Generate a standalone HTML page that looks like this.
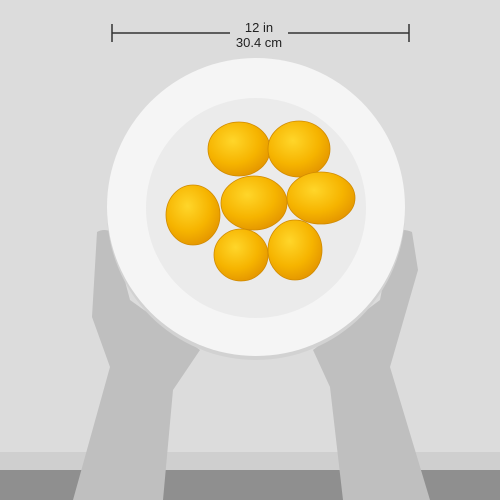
<!DOCTYPE html>
<html><head><meta charset="utf-8"><style>body{margin:0}svg{display:block}</style></head><body>
<svg width="500" height="500" viewBox="0 0 500 500">
<defs>
<radialGradient id="lem" cx="0.4" cy="0.35" r="0.7"><stop offset="0" stop-color="#ffd62a"/><stop offset="0.6" stop-color="#f6b400"/><stop offset="1" stop-color="#e39400"/></radialGradient>
</defs>
<rect width="500" height="500" fill="#dcdcdc"/>
<rect y="452" width="500" height="18" fill="#cfcfcf"/>
<rect y="470" width="500" height="30" fill="#8f8f8f"/>
<path d="M97,232 Q104,228 112,232 L130,300 L200,350 L173,390 L163,500 L73,500 L110,367 L92,317 Z" fill="#bfbfbf"/>
<path d="M393,232 Q403,228 412,232 L418,270 L390,367 L430,500 L343,500 L330,387 L313,350 L380,300 Z" fill="#bfbfbf"/>
<circle cx="256" cy="211" r="149" fill="#d2d2d2"/>
<circle cx="256" cy="207" r="149" fill="#f5f5f5"/>
<circle cx="256" cy="208" r="110" fill="#ebebeb"/>
<g stroke="#d08a00" stroke-width="0.8" fill="url(#lem)">
<ellipse cx="239" cy="149" rx="31" ry="27"/>
<ellipse cx="299" cy="149" rx="31" ry="28"/>
<ellipse cx="193" cy="215" rx="27" ry="30"/>
<ellipse cx="254" cy="203" rx="33" ry="27"/>
<ellipse cx="321" cy="198" rx="34" ry="26"/>
<ellipse cx="241" cy="255" rx="27" ry="26"/>
<ellipse cx="295" cy="250" rx="27" ry="30"/>
</g>
<g stroke="#333" stroke-width="1.5">
<line x1="112" y1="33" x2="230" y2="33"/><line x1="288" y1="33" x2="409" y2="33"/>
<line x1="112" y1="24" x2="112" y2="42"/><line x1="409" y1="24" x2="409" y2="42"/>
</g>
<text x="259" y="32" font-family="Liberation Sans, sans-serif" font-size="13" fill="#222" text-anchor="middle">12 in</text>
<text x="259" y="47" font-family="Liberation Sans, sans-serif" font-size="13" fill="#222" text-anchor="middle">30.4 cm</text>
</svg>
</body></html>
